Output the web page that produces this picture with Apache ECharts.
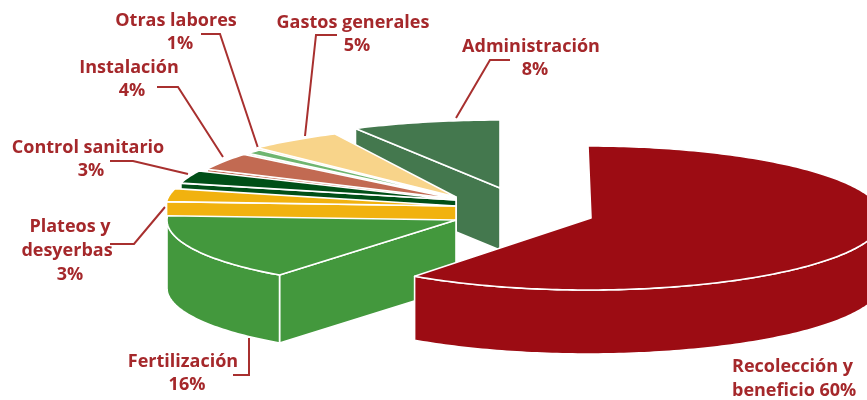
<!DOCTYPE html>
<html>
<head>
<meta charset="utf-8">
<style>html,body{margin:0;padding:0;background:#fff}#chart{width:867px;height:400px}</style>
<script src="https://cdn.jsdelivr.net/npm/echarts@6/dist/echarts.min.js"></script>
</head>
<body>
<div id="chart"></div>
<script>
// Cost shares in percent, listed from the back of the exploded pie to the front.
const categories = ['Administración', 'Gastos generales', 'Otras labores', 'Instalación',
  'Control sanitario', 'Plateos y desyerbas', 'Fertilización', 'Recolección y beneficio'];
const shares = [8, 5, 1, 4, 3, 3, 16, 60];

// Appearance of each wedge.
const colors = ['#44784e', '#f8d48a', '#6fb56f', '#c26a52', '#004f17', '#f1b20f', '#43983d', '#9c0c13'];
// Exploded position and ellipse radii of each wedge; the tip may sit off the ellipse centre.
const centersX = [500, 485, 456, 456, 456, 456, 440, 588];
const centersY = [188, 197, 198, 199, 200, 206, 220, 218];
const tipsX = [500, 456, 456, 456, 456, 456, 456, 591];
const radiiX = [300, 312, 270, 275, 284, 290, 273, 295];
const radiiY = [68, 72, 70, 70, 68, 70, 68, 72];
const depths = [62, 60, 60, 60, 60, 60, 68, 64];

// Text blocks: lines, anchor x, vertical centre y, alignment.
const labelColor = '#a5282b';
const labelBlocks = [
  { text: 'Otras labores', x: 176, y: 21 }, { text: '1%', x: 180, y: 44 },
  { text: 'Gastos generales', x: 353, y: 23 }, { text: '5%', x: 357, y: 46 },
  { text: 'Administración', x: 531, y: 47 }, { text: '8%', x: 535, y: 70 },
  { text: 'Instalación', x: 129, y: 68 }, { text: '4%', x: 132, y: 91 },
  { text: 'Control sanitario', x: 88, y: 148 }, { text: '3%', x: 91, y: 171 },
  { text: 'Plateos y', x: 70, y: 227 }, { text: 'desyerbas', x: 67, y: 251 }, { text: '3%', x: 70, y: 275 },
  { text: 'Fertilización', x: 183, y: 362 }, { text: '16%', x: 187, y: 385 },
  { text: 'Recolección y', x: 732, y: 367, align: 'left' }, { text: 'beneficio 60%', x: 732, y: 391, align: 'left' }
];

// Leader lines from the labels to their wedges.
const leaders = [
  [[201, 34], [220, 34], [258, 148]],
  [[337, 35], [316, 35], [305, 136]],
  [[510, 60], [490, 60], [456, 118]],
  [[157, 87], [178, 87], [223, 157]],
  [[110, 161], [133, 161], [188, 174]],
  [[110, 244], [134, 244], [165, 207]],
  [[233, 375], [249, 375], [249, 338]]
];

// Wedge angles in degrees clockwise from north; the last wedge starts at north.
const total = shares.reduce((a, b) => a + b, 0);
const endAngles = [];
const startAngles = [];
let running = 360;
shares.forEach((v, i) => {
  endAngles[i] = running;
  running -= v / total * 360;
  startAngles[i] = running;
});

function rimPoint(i, deg, drop) {
  const t = deg * Math.PI / 180;
  return [centersX[i] + radiiX[i] * Math.sin(t), centersY[i] - radiiY[i] * Math.cos(t) + (drop || 0)];
}
function arc(i, from, to, drop) {
  const pts = [];
  const n = Math.max(2, Math.ceil(Math.abs(to - from)));
  for (let k = 0; k <= n; k++) pts.push(rimPoint(i, from + (to - from) * k / n, drop));
  return pts;
}

function renderWedge(params, api) {
  const i = params.dataIndex;
  const fill = colors[i];
  const a = startAngles[i];
  const b = endAngles[i];
  const d = depths[i];
  const apex = [tipsX[i], centersY[i]];
  const style = { fill: fill, stroke: '#fff', lineWidth: 1.6, lineJoin: 'round' };
  const children = [];

  // Cut face along the wedge's starting edge, seen only on the left half.
  if (a > 180 && a < 360) {
    const rim = rimPoint(i, a);
    children.push({ type: 'polygon', shape: { points: [apex, rim, [rim[0], rim[1] + d], [apex[0], apex[1] + d]] }, style: style });
  }
  // Outer wall for the part of the rim that faces the viewer.
  const wallFrom = Math.max(a, 90);
  const wallTo = Math.min(b, 270);
  if (wallTo > wallFrom) {
    const upper = arc(i, wallFrom, wallTo, 0);
    const lower = arc(i, wallTo, wallFrom, d);
    children.push({ type: 'polygon', shape: { points: upper.concat(lower) }, style: style });
  }
  // Top surface.
  children.push({ type: 'polygon', shape: { points: [apex].concat(arc(i, a, b, 0)) }, style: style });
  return { type: 'group', children: children };
}

const chart = echarts.init(document.getElementById('chart'), null, { renderer: 'canvas' });

const graphicElements = labelBlocks.map(l => ({
  type: 'text', x: l.x, y: l.y, silent: true,
  style: {
    text: l.text, fill: labelColor, font: 'bold 18px "Open Sans"',
    textAlign: l.align || 'center', textVerticalAlign: 'middle'
  }
})).concat(leaders.map(p => ({
  type: 'polyline', silent: true, shape: { points: p },
  style: { stroke: '#a8302f', lineWidth: 2, fill: null }
})));

chart.setOption({
  animation: false,
  backgroundColor: '#fff',
  graphic: { elements: graphicElements },
  series: [{
    type: 'custom',
    coordinateSystem: 'none',
    silent: true,
    renderItem: renderWedge,
    data: categories.map((c, i) => ({ name: c, value: shares[i] }))
  }]
});
</script>
</body>
</html>
